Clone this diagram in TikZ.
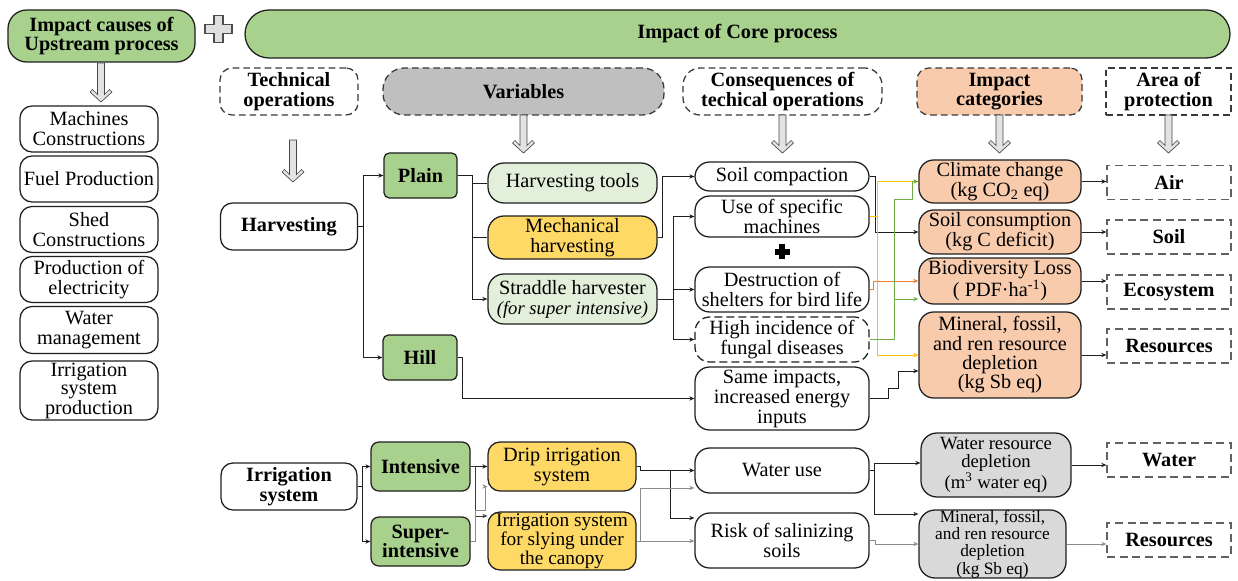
\documentclass[tikz,border=0pt]{standalone}
\usepackage{fontspec}
\setmainfont{Liberation Serif}
\usetikzlibrary{arrows.meta}
\definecolor{gfill}{HTML}{A9D18E}
\definecolor{lgfill}{HTML}{E2EFDA}
\definecolor{yfill}{HTML}{FFD966}
\definecolor{pfill}{HTML}{F8CBAD}
\definecolor{vfill}{HTML}{BFBFBF}
\definecolor{wfill}{HTML}{D9D9D9}
\definecolor{yline}{HTML}{FFC000}
\definecolor{gline}{HTML}{70AD47}
\definecolor{oline}{HTML}{ED7D31}
\definecolor{grline}{HTML}{8C8C8C}
\definecolor{edge}{HTML}{1F1F1F}
\definecolor{dedge}{HTML}{3A3A3A}
\newcommand\txtreg{\rmfamily\fontsize{15.2}{15}\selectfont}
\newcommand\txttight{\rmfamily\fontsize{14.5}{12.6}\selectfont}
\newcommand\txtbold{\rmfamily\fontsize{15.2}{14.5}\selectfont\bfseries}
\begin{document}
\begin{tikzpicture}[x=0.75pt,y=-0.75pt,
  wh/.style 2 args={minimum width=#1*0.75pt,minimum height=#2*0.75pt},
  base/.style={draw=edge,line width=0.95pt,inner sep=0pt,align=center,font=\txtreg},
  hdr/.style={base,draw=dedge,dash pattern=on 5pt off 3pt,font=\txtbold},
  aop/.style={base,draw=dedge!80,dash pattern=on 6pt off 3.5pt,fill=white,font=\txtbold,wh={124}{34}},
  lcol/.style={base,fill=white,rounded corners=9pt},
  cons/.style={base,fill=white,rounded corners=11pt},
  icat/.style={base,fill=pfill,rounded corners=11pt,wh={162}{#1}},
  ln/.style={line width=0.65pt,draw=edge},
  arr/.style={ln,-{Stealth[length=3.8pt,width=3.2pt]}},
  pics/darr/.style={code={
    \draw[fill=gray!22,draw=gray!55!black,line width=0.5pt]
      (-3.5,0) -- (3.5,0) -- (3.5,#1-7.5) -- (8.5,#1-12.5) -- (11,#1-10)
      -- (0,#1) -- (-11,#1-10) -- (-8.5,#1-12.5) -- (-3.5,#1-7.5) -- cycle;}},
  pics/plussign/.style n args={3}{code={
    \draw[#3] (-#2,-#1) -- (#2,-#1) -- (#2,-#2) -- (#1,-#2) -- (#1,#2) -- (#2,#2)
      -- (#2,#1) -- (-#2,#1) -- (-#2,#2) -- (-#1,#2) -- (-#1,-#2) -- (-#2,-#2) -- cycle;}}
]
\fill[white] (0,0) rectangle (1238,581);
\useasboundingbox (0,0) rectangle (1238,581);

% ---------- top banners ----------
\node[base,fill=gfill,rounded corners=14pt,wh={187}{52},font=\txtbold] (up) at (101.5,36) {Impact causes of\\Upstream process};
\pic at (218.5,29) {plussign={13.5}{4.5}{fill=gray!25,draw=gray!60!black,line width=0.8pt}};
\node[base,fill=gfill,rounded corners=18pt,wh={985}{48},font=\txtbold] (core) at (737.5,34) {Impact of Core process};

% ---------- upstream causes ----------
\pic at (101,63) {darr=39};
\node[lcol,wh={138}{46}] (m1) at (89,129) {Machines\\Constructions};
\node[lcol,wh={138}{46}] (m2) at (89,179) {Fuel Production};
\node[lcol,wh={138}{46}] (m3) at (89,229.5) {Shed\\Constructions};
\node[lcol,wh={138}{46}] (m4) at (89,279.5) {Production of\\electricity};
\node[lcol,wh={138}{47}] (m5) at (89,330) {Water\\management};
\node[lcol,wh={138}{59},font=\rmfamily\fontsize{15.2}{13.6}\selectfont] (m6) at (89,390.5) {Irrigation\\system\\production};

% ---------- column headers ----------
\node[hdr,fill=white,rounded corners=9pt,wh={138}{47}] (hTech) at (289,91.5) {Technical\\operations};
\node[hdr,fill=vfill,rounded corners=16pt,wh={281}{47}] (hVar) at (523.5,91.5) {Variables};
\node[hdr,fill=white,rounded corners=13pt,wh={199}{47}] (hCons) at (782.5,91.5) {Consequences of\\techical operations};
\node[hdr,fill=pfill,rounded corners=9pt,wh={165}{47}] (hCat) at (999.5,91.5) {Impact\\categories};
\node[hdr,fill=white,wh={125}{47}] (hAop) at (1168.5,91.5) {Area of\\protection};

\pic at (293,140) {darr=42};
\pic at (523.5,115) {darr=38};
\pic at (782.5,115) {darr=38};
\pic at (999.5,115) {darr=38};
\pic at (1168.5,115) {darr=38};

% ---------- harvesting ----------
\node[base,fill=white,rounded corners=9pt,wh={137}{47},font=\txtbold] (harv) at (289,226.5) {Harvesting};
\node[base,fill=gfill,rounded corners=4pt,wh={73}{45},font=\txtbold] (plain) at (420.5,175.5) {Plain};
\node[base,fill=gfill,rounded corners=4pt,wh={74}{45},font=\txtbold] (hill) at (420,357.5) {Hill};

\node[base,fill=lgfill,rounded corners=12pt,wh={169}{40}] (tools) at (572.5,183) {Harvesting tools};
\node[base,fill=yfill,rounded corners=12pt,wh={169}{43}] (mech) at (572.5,237.5) {Mechanical\\harvesting};
\node[base,fill=lgfill,rounded corners=12pt,wh={169}{50}] (strad) at (572.5,299) {Straddle harvester\\{\fontsize{14}{15}\selectfont\itshape (for super intensive)}};

\node[cons,wh={174}{29}] (soilc) at (782,176.5) {Soil compaction};
\node[cons,wh={174}{41}] (usem) at (782,216.5) {Use of specific\\machines};
\pic at (782,251.5) {plussign={7}{2.4}{fill=black,draw=black,line width=0.4pt}};
\node[cons,wh={174}{45}] (destr) at (782,289.5) {Destruction of\\shelters for bird life};
\node[cons,dash pattern=on 6pt off 3pt,wh={174}{45}] (fung) at (782,339.5) {High incidence of\\fungal diseases};
\node[cons,wh={174}{63}] (same) at (782,398.5) {Same impacts,\\increased energy\\inputs};

\node[icat=43] (clim) at (1000,181.5) {Climate change\\(kg CO\textsubscript{2} eq)};
\node[icat=44] (scons) at (1000,232) {Soil consumption\\(kg C deficit)};
\node[icat=46] (bio) at (1000,281) {Biodiversity Loss\\( PDF·ha\textsuperscript{-1})};
\node[icat=86,font=\rmfamily\fontsize{15.2}{14.5}\selectfont] (min1) at (1000,355) {Mineral, fossil,\\and ren resource\\depletion\\(kg Sb eq)};

\node[aop] (air) at (1169,182.5) {Air};
\node[aop] (soil) at (1169,237) {Soil};
\node[aop] (eco) at (1169,292) {Ecosystem};
\node[aop] (res1) at (1169,346) {Resources};

% ---------- irrigation ----------
\node[base,fill=white,rounded corners=9pt,wh={136}{47},font=\txtbold] (irr) at (289,486.5) {Irrigation\\system};
\node[base,fill=gfill,rounded corners=6pt,wh={99}{49},font=\txtbold] (int) at (420.5,466.5) {Intensive};
\node[base,fill=gfill,rounded corners=6pt,wh={99}{49},font=\txtbold] (sup) at (420.5,541.5) {Super-\\intensive};
\node[base,fill=yfill,rounded corners=9pt,wh={148}{49}] (drip) at (562,466.5) {Drip irrigation\\system};
\node[base,fill=yfill,rounded corners=9pt,wh={148}{58},font=\txttight] (sly) at (562,541) {Irrigation system\\for slying under\\the canopy};

\node[cons,wh={174}{45}] (wuse) at (782,470.5) {Water use};
\node[cons,wh={174}{55}] (risk) at (782,540.5) {Risk of salinizing\\soils};
\node[base,fill=wfill,rounded corners=12pt,wh={150}{64},font=\rmfamily\fontsize{14}{14}\selectfont] (wrd) at (996,465) {Water resource\\depletion\\(m\textsuperscript{3} water eq)};
\node[base,fill=wfill,rounded corners=12pt,wh={147}{68},font=\rmfamily\fontsize{13}{13}\selectfont] (min2) at (992.5,544) {Mineral, fossil,\\and ren resource\\depletion\\(kg Sb eq)};
\node[aop] (water) at (1169,460) {Water};
\node[aop] (res2) at (1169,540) {Resources};

% ---------- connectors: harvesting ----------
\draw[arr] (harv.east) -- ++(5,0) |- (plain.west);
\draw[arr] (harv.east) -- ++(5,0) |- (hill.west);
\draw[ln] (plain.east) -- ++(15,0) |- (tools.west);
\draw[ln] (plain.east) -- ++(15,0) |- (mech.west);
\draw[arr] (plain.east) -- ++(15,0) |- (strad.west);
\draw[arr] (mech.east) -- ++(5,0) |- (soilc.west);
\draw[arr] (strad.east) -- ++(16,0) |- (usem.west);
\draw[arr] (strad.east) -- ++(16,0) |- (destr.west);
\draw[arr] (strad.east) -- ++(16,0) |- (fung.west);
\draw[arr] (hill.east) -- ++(5,0) |- (same.west);

\draw[arr] (soilc.east) -- ++(6,0) |- (scons.west);
\draw[arr,draw=yline] (usem.east) -- ++(8,0) |- (clim.west);
\draw[arr,draw=yline] (usem.east) -- ++(8,0) |- (min1.west);
\draw[arr,draw=oline] (destr.east) -- ++(4,0) |- (bio.west);
\draw[arr,draw=gline] (fung.east) -- ++(25,0) |- ++(18,-140.5) |- (clim.west);
\draw[arr,draw=gline] (fung.east) -- ++(25,0) |- ([yshift=-13.5pt]bio.west);
\draw[arr] (same.east) -- ++(19,0) |- ++(9.5,-10.5) |- ([yshift=-12pt]min1.west);

\draw[arr] (clim.east) -- (clim.east -| air.west);
\draw[arr] (scons.east) -- (scons.east -| soil.west);
\draw[arr] (bio.east) -- (bio.east -| eco.west);
\draw[arr] (min1.east) -- (min1.east -| res1.west);

% ---------- connectors: irrigation ----------
\draw[arr] (irr.east) -- ++(5,0) |- (int.west);
\draw[arr] (irr.east) -- ++(5,0) |- (sup.west);
\draw[arr] (int.east) -- (drip.west);
\draw[arr,draw=dedge] (int.east) -- ++(5,0) |- ([yshift=18.75pt]sly.west);
\draw[arr,draw=grline] (sup.east) -- ++(5,0) |- ++(10,-31) |- ([yshift=-15pt]drip.west);
\draw[arr] (drip.east) -- ++(4,0) |- (wuse.west);
\draw[arr] (drip.east) -- ++(4,0) |- ++(30,4) |- ([yshift=16.9pt]risk.west);
\draw[arr,draw=grline] (sly.east) -- ++(4,0) |- ([yshift=-13.1pt]wuse.west);
\draw[arr,draw=grline] (sly.east) -- (sly.east -| risk.west);
\draw[arr] (wuse.east) -- ++(5,0) |- ([yshift=1.5pt]wrd.west);
\draw[arr] (wuse.east) -- ++(5,0) |- ([yshift=22.5pt]min2.west);
\draw[arr,draw=grline] (risk.east) -- ++(6,0) |- (min2.west);
\draw[arr] (wrd.east) -- (wrd.east -| water.west);
\draw[arr,draw=grline] (min2.east) -- (min2.east -| res2.west);
\end{tikzpicture}
\end{document}
